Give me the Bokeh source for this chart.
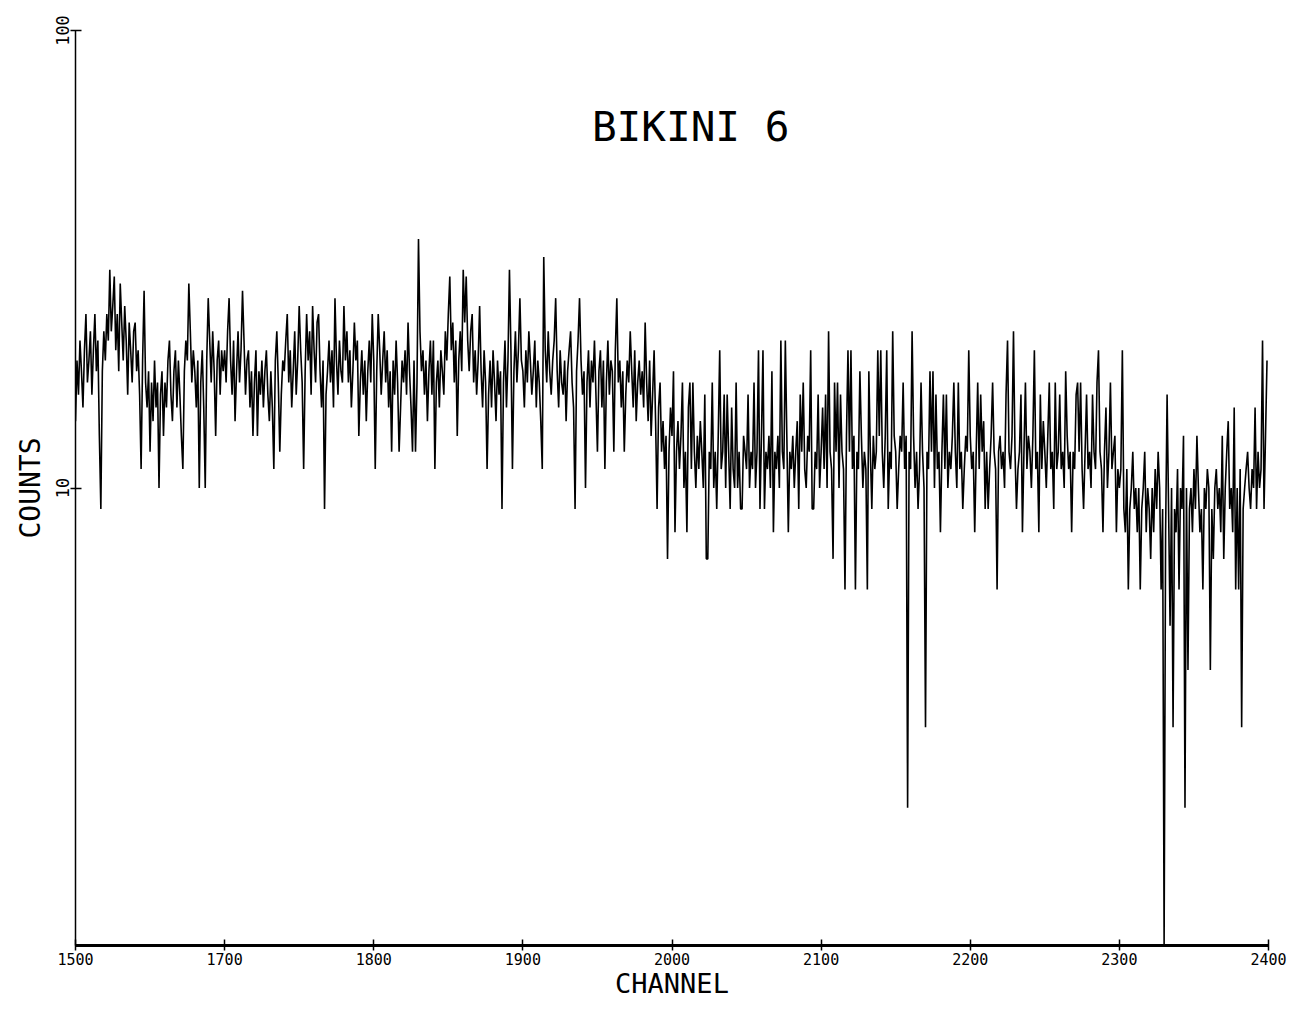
from bokeh.plotting import figure
from bokeh.models import FixedTicker, Label
from bokeh.embed import file_html
from bokeh.resources import INLINE

# Spectrum counts, one value per channel, in blocks of 100 channels
counts_1600 = [14, 19, 16, 21, 18, 15, 20, 24, 17, 19, 22, 16, 20, 24, 18, 21, 13, 9, 18, 22,
               19, 24, 21, 30, 22, 25, 29, 20, 24, 18, 28, 23, 19, 25, 21, 16, 23, 20, 17, 22,
               23, 18, 20, 16, 11, 19, 27, 17, 15, 18, 12, 17, 14, 19, 15, 17, 10, 16, 18, 13,
               17, 15, 19, 21, 16, 14, 18, 20, 15, 19, 16, 13, 11, 18, 21, 19, 28, 22, 17, 20,
               18, 15, 19, 10, 17, 20, 15, 10, 19, 26, 21, 17, 22, 18, 13, 19, 21, 16, 20, 18]
counts_1700 = [20, 17, 22, 26, 19, 16, 21, 14, 18, 22, 17, 20, 27, 21, 16, 19, 20, 15, 18, 13,
               17, 20, 13, 18, 16, 19, 15, 18, 20, 16, 14, 18, 15, 11, 19, 22, 17, 12, 16, 19,
               18, 21, 24, 17, 20, 15, 18, 22, 16, 19, 25, 20, 17, 11, 18, 24, 19, 22, 16, 25,
               20, 17, 23, 24, 18, 15, 19, 9, 16, 18, 21, 17, 20, 15, 26, 19, 16, 21, 18, 17,
               25, 19, 22, 17, 20, 15, 18, 23, 19, 21, 13, 17, 20, 16, 19, 14, 18, 21, 17, 24]
counts_1800 = [19, 11, 18, 24, 20, 16, 19, 22, 17, 20, 15, 18, 12, 19, 16, 21, 17, 12, 15, 19,
               17, 20, 16, 23, 18, 15, 12, 19, 12, 17, 35, 22, 18, 20, 16, 19, 14, 18, 21, 16,
               21, 11, 17, 19, 15, 20, 18, 16, 22, 19, 24, 29, 20, 23, 17, 21, 13, 19, 22, 18,
               30, 23, 29, 21, 18, 22, 24, 17, 20, 16, 19, 25, 18, 15, 20, 17, 11, 16, 19, 15,
               20, 17, 14, 19, 16, 18, 9, 17, 21, 15, 19, 30, 20, 11, 18, 22, 17, 20, 26, 19]
counts_1900 = [18, 15, 20, 17, 22, 19, 16, 18, 21, 15, 19, 17, 14, 11, 32, 20, 17, 22, 18, 16,
               19, 21, 26, 18, 15, 20, 17, 16, 19, 14, 18, 20, 22, 17, 15, 9, 18, 21, 26, 19,
               16, 18, 10, 17, 20, 15, 19, 17, 21, 16, 12, 18, 20, 15, 19, 11, 17, 21, 16, 19,
               18, 12, 20, 26, 17, 19, 15, 18, 12, 16, 19, 17, 22, 18, 15, 20, 14, 17, 19, 16,
               18, 15, 23, 17, 14, 19, 13, 16, 20, 14, 9, 15, 17, 12, 14, 11, 13, 7, 12, 15]
counts_2000 = [13, 18, 8, 12, 14, 11, 13, 17, 10, 12, 8, 15, 17, 11, 17, 12, 10, 13, 11, 14,
               12, 10, 16, 7, 7, 12, 11, 17, 10, 12, 9, 13, 20, 11, 12, 16, 10, 16, 12, 9,
               15, 11, 10, 17, 10, 12, 9, 9, 13, 12, 11, 16, 10, 12, 11, 17, 10, 12, 20, 9,
               13, 20, 9, 12, 11, 13, 10, 18, 8, 12, 11, 13, 10, 21, 12, 11, 21, 13, 8, 12,
               11, 13, 10, 12, 14, 9, 16, 12, 17, 11, 10, 13, 12, 20, 9, 9, 12, 11, 16, 10]
counts_2100 = [12, 15, 11, 16, 10, 22, 12, 11, 7, 17, 12, 17, 10, 16, 12, 11, 6, 13, 20, 12,
               20, 11, 13, 6, 12, 11, 18, 13, 10, 12, 11, 6, 18, 12, 9, 13, 11, 12, 20, 13,
               20, 12, 10, 13, 20, 9, 12, 11, 22, 13, 12, 9, 11, 13, 12, 17, 11, 13, 2, 12,
               11, 22, 13, 10, 12, 9, 11, 17, 12, 10, 3, 12, 11, 18, 12, 18, 10, 16, 11, 12,
               8, 12, 16, 11, 16, 10, 12, 11, 13, 17, 12, 10, 17, 11, 12, 9, 11, 13, 12, 20]
counts_2200 = [13, 11, 12, 8, 12, 17, 11, 16, 12, 14, 9, 12, 9, 11, 13, 17, 12, 11, 6, 12,
               13, 11, 12, 10, 16, 21, 12, 11, 13, 22, 12, 9, 11, 12, 16, 8, 12, 17, 11, 13,
               12, 10, 13, 20, 11, 12, 8, 16, 11, 14, 12, 10, 13, 17, 11, 12, 9, 17, 11, 12,
               16, 11, 12, 10, 18, 13, 11, 12, 8, 12, 11, 16, 17, 12, 17, 11, 9, 12, 16, 11,
               12, 10, 16, 12, 11, 17, 20, 12, 11, 8, 12, 15, 10, 12, 17, 11, 12, 13, 8, 11]
counts_2300 = [10, 11, 20, 9, 8, 11, 6, 9, 10, 12, 9, 10, 8, 10, 6, 9, 10, 12, 8, 10,
               9, 7, 10, 8, 11, 9, 12, 10, 6, 9, 1, 8, 16, 9, 5, 10, 3, 9, 8, 11,
               6, 10, 9, 13, 2, 10, 4, 9, 10, 8, 11, 9, 13, 10, 8, 9, 6, 10, 9, 11,
               10, 4, 9, 7, 10, 11, 9, 10, 8, 13, 7, 10, 12, 14, 9, 10, 8, 15, 6, 10,
               6, 11, 3, 9, 10, 11, 12, 10, 9, 11, 10, 15, 9, 12, 10, 11, 21, 9, 13, 19]

counts = (counts_1600 + counts_1700 + counts_1800 + counts_1900
          + counts_2000 + counts_2100 + counts_2200 + counts_2300)
channels = list(range(1600, 1600 + len(counts)))

x_ticks = [1600, 1700, 1800, 1900, 2000, 2100, 2200, 2300, 2400]
x_tick_labels = {1600: "1500"}
y_ticks = [10, 100]
y_tick_labels = {10: "10", 100: "100"}

FONT = "DejaVu Sans Mono"

p = figure(width=1300, height=1001, y_axis_type="log",
           x_range=(1600, 2400), y_range=(1, 100),
           output_backend="svg", toolbar_location=None,
           min_border_left=75, min_border_top=30,
           min_border_right=32, min_border_bottom=56)

p.line(channels, counts, line_color="black", line_width=1.6)

p.add_layout(Label(x=2012.5, y=61.4, text="BIKINI 6", text_align="center",
                   text_baseline="middle", text_font=FONT,
                   text_font_size="41px", text_color="black"))

# axes
p.xaxis.ticker = FixedTicker(ticks=x_ticks)
p.xaxis.major_label_overrides = x_tick_labels
p.yaxis.ticker = FixedTicker(ticks=y_ticks)
p.yaxis.major_label_overrides = y_tick_labels
p.yaxis.major_label_orientation = "vertical"

p.xaxis.axis_label = "CHANNEL"
p.yaxis.axis_label = "COUNTS"
p.axis.axis_label_text_font = FONT
p.xaxis.axis_label_text_font_size = "27px"
p.yaxis.axis_label_text_font_size = "28px"
p.axis.axis_label_text_font_style = "normal"
p.axis.axis_label_text_color = "black"
p.xaxis.axis_label_standoff = 0
p.yaxis.axis_label_standoff = 6
p.axis.major_label_text_font = FONT
p.xaxis.major_label_text_font_size = "15px"
p.yaxis.major_label_text_font_size = "17px"
p.axis.major_label_text_color = "black"
p.axis.major_label_standoff = 2

p.axis.major_tick_in = 6
p.axis.major_tick_out = 5
p.axis.major_tick_line_color = "black"
p.axis.major_tick_line_width = 1.5
p.axis.minor_tick_line_color = None
p.xaxis.axis_line_width = 3
p.yaxis.axis_line_width = 1.5
p.axis.axis_line_color = "black"

p.xgrid.grid_line_color = None
p.ygrid.grid_line_color = None
p.outline_line_color = None
p.background_fill_color = "white"
p.border_fill_color = "white"

open("out.html", "w").write(file_html(p, INLINE))
